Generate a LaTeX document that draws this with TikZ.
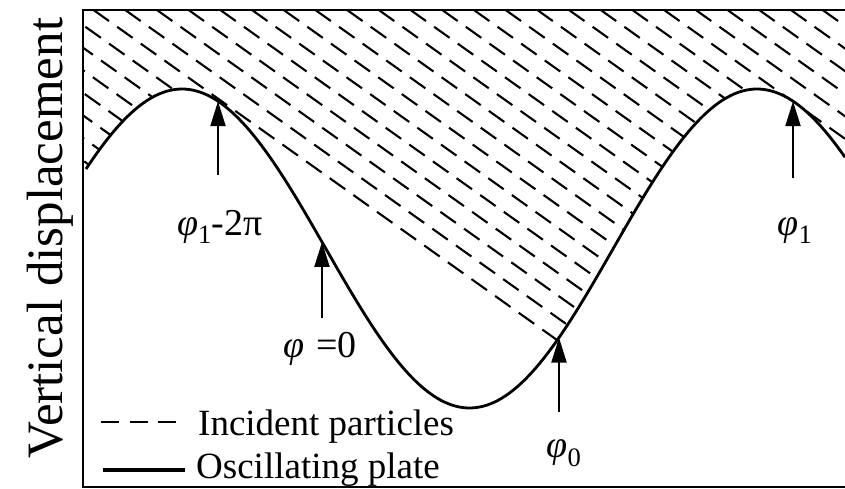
\documentclass[tikz,border=0pt]{standalone}
\usepackage{fontspec}
\setmainfont{Liberation Serif}
\usetikzlibrary{arrows.meta}

\begin{document}
\begin{tikzpicture}[x=1pt, y=-1pt,
    declare function={plate(\x)=248.5-159.5*cos(0.626087*(\x-182));},
    frame/.style={line width=1.8pt},
    plate/.style={line width=2.8pt, line join=round},
    particle/.style={line width=2.1pt, dash pattern=on 19pt off 10pt},
    marker/.style={line width=2.2pt, -{Triangle[length=25pt, width=15pt]}},
    lbl/.style={inner sep=0pt, anchor=base, font=\fontsize{38}{42}\selectfont},
    legend/.style={inner sep=0pt, anchor=base west, font=\fontsize{37}{42}\selectfont},
]
    \useasboundingbox (0,0) rectangle (845,489);

    % frame, open on the right
    \draw[frame] (845,10) -- (83,10) -- (83,487) -- (845,487);

    % incident particles, cut off by the plate and its shadows
    \begin{scope}
        \clip (83,10) -- (845,10) -- (845,141)
            -- (793,{plate(793)+1})
            -- plot[domain=793:557, samples=60] (\x,{plate(\x)+1})
            -- (218,{plate(218)+1})
            -- plot[domain=218:83, samples=40] (\x,{plate(\x)+1}) -- cycle;
        \foreach \k in {-7,...,23} {
            \pgfmathsetmacro{\xs}{93.5+31.7*\k}
            \draw[particle] (\xs,10) -- ++(1000,712);
        }
    \end{scope}

    % oscillating plate
    \draw[plate] plot[domain=86:845, samples=200] (\x,{plate(\x)});

    % phase markers
    \coordinate (tailA) at (218,175);
    \coordinate (tipA) at (218,{plate(218)});
    \coordinate (tailB) at (322,318);
    \coordinate (tipB) at (322,{plate(322)});
    \coordinate (tailC) at (559,412);
    \coordinate (tipC) at (559,{plate(559)});
    \coordinate (tailD) at (793,178);
    \coordinate (tipD) at (793,{plate(793)});
    \draw[marker] (tailA) -- (tipA);
    \draw[marker] (tailB) -- (tipB);
    \draw[marker] (tailC) -- (tipC);
    \draw[marker] (tailD) -- (tipD);

    \node[lbl] (phiA) at (220,235) {{\itshape φ}\textsubscript{1}-2π};
    \node[lbl] (phiB) at (320,357) {{\itshape φ}\hspace{0.3em}=0};
    \node[lbl] (phiC) at (564,457) {{\itshape φ}\textsubscript{0}};
    \node[lbl] (phiD) at (795,235) {{\itshape φ}\textsubscript{1}};

    % legend
    \coordinate (dashL) at (101,422);
    \coordinate (dashR) at (176,422);
    \coordinate (solidL) at (103,470);
    \coordinate (solidR) at (185,470);
    \draw[line width=2pt, dash pattern=on 18pt off 10.5pt] (dashL) -- (dashR);
    \draw[line width=3.5pt] (solidL) -- (solidR);
    \node[legend] (legInc) at (198,435) {Incident particles};
    \node[legend] (legOsc) at (196,478) {Oscillating plate};

    \node[rotate=90, anchor=base, inner sep=0pt, font=\fontsize{51}{56}\selectfont]
        (ylab) at (62,238) {Vertical displacement};
\end{tikzpicture}
\end{document}
